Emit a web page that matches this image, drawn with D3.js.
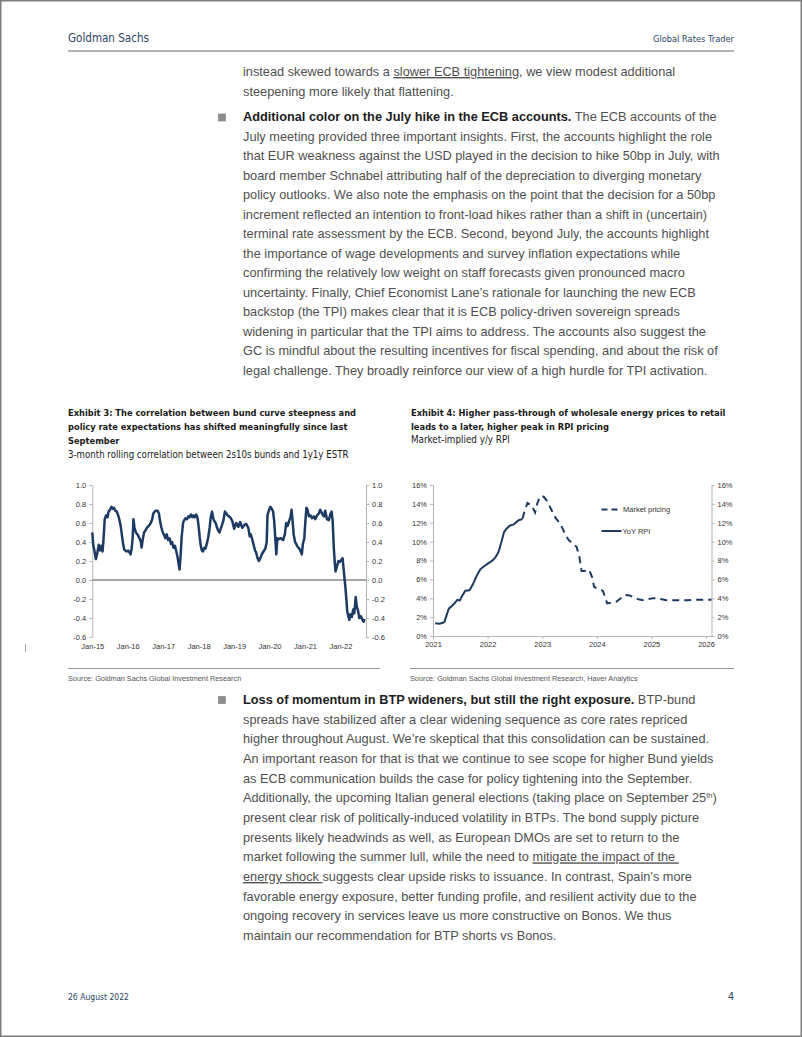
<!DOCTYPE html>
<html><head><meta charset="utf-8">
<script src="https://cdn.jsdelivr.net/npm/d3@7"></script>
<style>body{margin:0;background:#fff}svg{display:block}</style>
</head><body>
<svg id="page" width="802" height="1037"></svg>
<script>
// ---------- Exhibit 3 data: 3m rolling correlation 2s10s bunds vs 1y1y ESTR ----------
const corrYears = [2015.00,2015.03,2015.065,2015.10,2015.14,2015.18,2015.22,2015.255,2015.29,2015.32,2015.35,2015.39,2015.43,2015.46,2015.50,2015.54,2015.58,2015.61,2015.65,2015.69,2015.73,2015.76,2015.80,2015.84,2015.87,2015.90,2015.93,2015.97,
2016.01,2016.05,2016.08,2016.11,2016.14,2016.16,2016.19,2016.22,2016.25,2016.29,2016.33,2016.37,2016.39,2016.42,2016.46,2016.50,2016.54,2016.57,2016.61,2016.65,2016.69,2016.72,2016.76,2016.80,2016.84,2016.88,2016.91,2016.95,2016.99,
2017.03,2017.06,2017.10,2017.14,2017.18,2017.22,2017.25,2017.29,2017.33,2017.37,2017.40,2017.43,2017.46,2017.49,2017.52,2017.56,2017.59,2017.63,2017.67,2017.71,2017.74,2017.78,2017.82,2017.85,2017.89,2017.93,2017.97,
2018.00,2018.03,2018.06,2018.09,2018.12,2018.16,2018.19,2018.23,2018.27,2018.31,2018.34,2018.38,2018.41,2018.44,2018.48,2018.51,2018.55,2018.59,2018.63,2018.66,2018.70,2018.74,2018.78,2018.82,2018.89,2018.95,
2019.00,2019.06,2019.12,2019.17,2019.23,2019.29,2019.34,2019.40,2019.44,2019.47,2019.51,2019.55,2019.59,2019.62,2019.66,2019.70,2019.74,2019.78,2019.83,2019.88,2019.92,2019.94,2019.98,
2020.02,2020.06,2020.10,2020.13,2020.16,2020.19,2020.22,2020.26,2020.32,2020.38,2020.43,2020.47,2020.51,2020.55,2020.59,2020.62,2020.65,2020.68,2020.72,2020.75,2020.79,2020.84,2020.88,2020.91,2020.94,2020.98,
2021.01,2021.04,2021.07,2021.11,2021.15,2021.20,2021.25,2021.29,2021.34,2021.39,2021.43,2021.48,2021.53,2021.57,2021.62,2021.67,2021.72,2021.75,2021.78,2021.81,2021.84,2021.86,2021.90,2021.94,2021.98,
2022.02,2022.06,2022.08,2022.11,2022.14,2022.17,2022.19,2022.22,2022.25,2022.28,2022.32,2022.36,2022.39,2022.43,2022.46,2022.50,2022.53,2022.57,2022.61,2022.65,2022.68];
const corrValues = [0.50,0.36,0.30,0.22,0.28,0.37,0.31,0.36,0.30,0.45,0.64,0.68,0.66,0.72,0.74,0.77,0.75,0.76,0.73,0.72,0.68,0.64,0.57,0.46,0.38,0.32,0.31,0.30,
0.31,0.29,0.27,0.33,0.45,0.64,0.55,0.51,0.49,0.47,0.44,0.40,0.34,0.42,0.50,0.52,0.55,0.56,0.58,0.60,0.64,0.70,0.72,0.73,0.73,0.70,0.62,0.55,0.50,
0.47,0.44,0.48,0.42,0.44,0.38,0.40,0.34,0.36,0.30,0.25,0.18,0.11,0.25,0.45,0.60,0.63,0.65,0.64,0.67,0.66,0.69,0.66,0.68,0.66,0.69,0.65,
0.56,0.45,0.36,0.31,0.30,0.34,0.33,0.38,0.45,0.55,0.66,0.72,0.65,0.62,0.60,0.56,0.52,0.50,0.55,0.58,0.63,0.72,0.70,0.68,0.66,0.62,
0.54,0.60,0.56,0.61,0.55,0.58,0.59,0.55,0.46,0.48,0.43,0.37,0.31,0.29,0.23,0.20,0.23,0.27,0.30,0.33,0.40,0.68,0.73,
0.77,0.75,0.72,0.62,0.45,0.27,0.44,0.43,0.44,0.42,0.48,0.60,0.57,0.62,0.66,0.74,0.62,0.48,0.40,0.38,0.35,0.33,0.30,0.27,0.38,0.44,
0.62,0.76,0.74,0.67,0.68,0.65,0.67,0.64,0.68,0.70,0.74,0.70,0.67,0.73,0.64,0.63,0.70,0.72,0.62,0.35,0.18,0.09,0.14,0.20,0.19,
0.21,0.23,0.15,0.03,-0.08,-0.22,-0.33,-0.38,-0.42,-0.36,-0.39,-0.31,-0.35,-0.18,-0.28,-0.33,-0.40,-0.38,-0.41,-0.44,-0.41];
const corrTickValues = [-0.6,-0.4,-0.2,0.0,0.2,0.4,0.6,0.8,1.0];
const corrTickLabels = ["-0.6","-0.4","-0.2","0.0","0.2","0.4","0.6","0.8","1.0"];
const corrXTicks = [2015,2016,2017,2018,2019,2020,2021,2022];
const corrXLabels = ["Jan-15","Jan-16","Jan-17","Jan-18","Jan-19","Jan-20","Jan-21","Jan-22"];

// ---------- Exhibit 4 data: market-implied y/y RPI (%) ----------
const rpiYears = [2021.04,2021.12,2021.18,2021.21,2021.26,2021.29,2021.35,2021.40,2021.45,2021.49,2021.53,2021.59,2021.67,2021.74,2021.81,2021.87,2021.95,2022.01,2022.08,2022.14,2022.20,2022.25,2022.30,2022.35,2022.41,2022.47,2022.53,2022.58,2022.64];
const rpiValues = [1.35,1.3,1.4,1.5,2.4,2.9,3.2,3.5,3.85,3.75,4.2,4.8,4.85,5.6,6.5,7.1,7.45,7.7,7.95,8.3,8.9,9.9,11.0,11.4,11.7,11.8,12.1,12.3,12.4];
const mktYears = [2022.64,2022.68,2022.73,2022.81,2022.87,2022.91,2022.96,2023.03,2023.09,2023.17,2023.25,2023.33,2023.40,2023.48,2023.56,2023.63,2023.68,2023.72,2023.80,2023.86,2023.91,2023.95,2024.03,2024.11,2024.15,2024.19,2024.27,2024.36,2024.44,2024.52,2024.60,2024.67,2024.76,2024.85,2024.94,2025.02,2025.10,2025.19,2025.28,2025.46,2025.65,2025.83,2026.01,2026.10];
const mktValues = [12.45,13.3,14.1,13.8,13.1,14.05,14.8,14.75,14.3,13.35,12.45,11.9,11.05,10.2,9.75,9.45,8.4,6.9,6.9,7.0,6.3,5.2,4.95,4.8,4.15,3.45,3.55,3.65,4.0,4.35,4.3,4.1,3.9,3.8,3.9,4.0,4.0,3.9,3.8,3.8,3.8,3.85,3.85,3.85];
const rpiTickValues = [0,2,4,6,8,10,12,14,16];
const rpiTickLabels = ["0%","2%","4%","6%","8%","10%","12%","14%","16%"];
const rpiXTicks = [2021,2022,2023,2024,2025,2026];
const rpiXLabels = ["2021","2022","2023","2024","2025","2026"];
const rpiSeriesNames = ["Market pricing","YoY RPI"];

// ---------- page text ----------
const bodyTop = [
 [["instead skewed towards a ",""],["slower ECB tightening","u"],[", we view modest additional",""]],
 [["steepening more likely that flattening.",""]],
 [["Additional color on the July hike in the ECB accounts.","b"],[" The ECB accounts of the",""]],
 [["July meeting provided three important insights. First, the accounts highlight the role",""]],
 [["that EUR weakness against the USD played in the decision to hike 50bp in July, with",""]],
 [["board member Schnabel attributing half of the depreciation to diverging monetary",""]],
 [["policy outlooks. We also note the emphasis on the point that the decision for a 50bp",""]],
 [["increment reflected an intention to front-load hikes rather than a shift in (uncertain)",""]],
 [["terminal rate assessment by the ECB. Second, beyond July, the accounts highlight",""]],
 [["the importance of wage developments and survey inflation expectations while",""]],
 [["confirming the relatively low weight on staff forecasts given pronounced macro",""]],
 [["uncertainty. Finally, Chief Economist Lane’s rationale for launching the new ECB",""]],
 [["backstop (the TPI) makes clear that it is ECB policy-driven sovereign spreads",""]],
 [["widening in particular that the TPI aims to address. The accounts also suggest the",""]],
 [["GC is mindful about the resulting incentives for fiscal spending, and about the risk of",""]],
 [["legal challenge. They broadly reinforce our view of a high hurdle for TPI activation.",""]]
];
const bodyBottom = [
 [["Loss of momentum in BTP wideners, but still the right exposure.","b"],[" BTP-bund",""]],
 [["spreads have stabilized after a clear widening sequence as core rates repriced",""]],
 [["higher throughout August. We’re skeptical that this consolidation can be sustained.",""]],
 [["An important reason for that is that we continue to see scope for higher Bund yields",""]],
 [["as ECB communication builds the case for policy tightening into the September.",""]],
 [["Additionally, the upcoming Italian general elections (taking place on September 25",""],["th","sup"],[")",""]],
 [["present clear risk of politically-induced volatility in BTPs. The bond supply picture",""]],
 [["presents likely headwinds as well, as European DMOs are set to return to the",""]],
 [["market following the summer lull, while the need to ",""],["mitigate the impact of the ","u"]],
 [["energy shock ","u"],["suggests clear upside risks to issuance. In contrast, Spain’s more",""]],
 [["favorable energy exposure, better funding profile, and resilient activity due to the",""]],
 [["ongoing recovery in services leave us more constructive on Bonos. We thus",""]],
 [["maintain our recommendation for BTP shorts vs Bonos.",""]]
];

const SANS = "'Liberation Sans', Arial, Helvetica, sans-serif";
const NARROW = "'Liberation Sans Narrow','Arial Narrow','DejaVu Sans Condensed','Liberation Sans',sans-serif";
const NAVY = "#2c4463";
const LINE = "#1d3a62";

const svg = d3.select("#page");
svg.append("rect").attr("x",0.75).attr("y",0.75).attr("width",800.5).attr("height",1035.5)
  .attr("fill","#fff").attr("stroke","#7d7d7d").attr("stroke-width",1.5);

// shrink/grow font so that the text's natural width equals the target width
function fitText(sel, w){
  const fs = +sel.attr("font-size");
  const len = sel.node().getComputedTextLength();
  if(len>0) sel.attr("font-size", (fs*w/len).toFixed(2));
  return sel;
}
fitText(svg.append("text").attr("x",68).attr("y",42).attr("font-family",NARROW).attr("font-size",13.5)
  .attr("fill",NAVY).text("Goldman Sachs"), 81);
fitText(svg.append("text").attr("x",734).attr("y",42).attr("text-anchor","end").attr("font-family",NARROW).attr("font-size",11)
  .attr("fill",NAVY).text("Global Rates Trader"), 81);
svg.append("line").attr("x1",68).attr("x2",734).attr("y1",51).attr("y2",51).attr("stroke","#b4b4b4").attr("stroke-width",2);
fitText(svg.append("text").attr("x",68).attr("y",1000).attr("font-family",NARROW).attr("font-size",10.5)
  .attr("fill",NAVY).text("26 August 2022"), 61);
svg.append("text").attr("x",734).attr("y",1000).attr("text-anchor","end").attr("font-family",NARROW).attr("font-size",10.5)
  .attr("fill",NAVY).text("4");
svg.append("line").attr("x1",25.5).attr("x2",25.5).attr("y1",644).attr("y2",652).attr("stroke","#aaa").attr("stroke-width",1);

// body text
function drawLines(lines, baselines){
  const g = svg.append("g");
  lines.forEach((segs,i)=>{
    const t = g.append("text").attr("x",243).attr("y",baselines[i]).attr("font-family",SANS)
      .attr("font-size",13.6).attr("fill","#4f4f4f").attr("xml:space","preserve");
    segs.forEach(s=>{
      const ts = t.append("tspan").text(s[0]);
      if(s[1]==="b") ts.attr("font-weight","bold").attr("fill","#1c1c1c");
      if(s[1]==="u") ts.attr("text-decoration","underline");
      if(s[1]==="sup") ts.attr("font-size",8).attr("baseline-shift","super");
    });
  });
  return g;
}
const topBase = bodyTop.map((d,i)=> i===0?76 : i===1?95.8 : 121.5 + 19.5*(i-2));
const botBase = bodyBottom.map((d,i)=> 704 + 19.67*i);
const gTop = drawLines(bodyTop, topBase);
const gBot = drawLines(bodyBottom, botBase);
const natural = gTop.selectAll("text").nodes()[3].getComputedTextLength();
const k = 469/natural;
[gTop,gBot].forEach(g=>g.attr("transform",`translate(243,0) scale(${k},1) translate(-243,0)`));
// bullets
[117.5, 700].forEach(cy=>{
  svg.append("rect").attr("x",218.5).attr("y",cy-3.5).attr("width",7).attr("height",7)
    .attr("fill","#8e8e8e").attr("stroke","#777").attr("stroke-width",0.6);
});

// exhibit titles
function title(x, lines, sub){
  let fs = 12;
  const nodes = lines.map((l,i)=> svg.append("text").attr("x",x).attr("y",416+14*i).attr("font-family",NARROW)
      .attr("font-weight","bold").attr("font-size",12).attr("fill","#1a1a1a").text(l[0]));
  // use one font size for all lines of a title, set by the first (widest) line
  fitText(nodes[0], lines[0][1]);
  fs = nodes[0].attr("font-size");
  nodes.forEach(n=>n.attr("font-size",fs));
  fitText(svg.append("text").attr("x",x).attr("y",sub[2]).attr("font-family",NARROW)
      .attr("font-size",11.5).attr("fill","#1a1a1a").text(sub[0]), sub[1]);
}
title(68, [["Exhibit 3: The correlation between bund curve steepness and",288],
           ["policy rate expectations has shifted meaningfully since last",284],
           ["September",52]],
      ["3-month rolling correlation between 2s10s bunds and 1y1y ESTR",281,457.5]);
title(411, [["Exhibit 4: Higher pass-through of wholesale energy prices to retail",315],
            ["leads to a later, higher peak in RPI pricing",199]],
      ["Market-implied y/y RPI",99,443]);

// source lines
svg.append("line").attr("x1",68).attr("x2",380).attr("y1",668.5).attr("y2",668.5).attr("stroke","#9a9a9a").attr("stroke-width",1);
svg.append("line").attr("x1",410).attr("x2",734).attr("y1",668.5).attr("y2",668.5).attr("stroke","#9a9a9a").attr("stroke-width",1);
svg.append("text").attr("x",68).attr("y",681).attr("font-family",SANS).attr("font-size",7.3).attr("fill","#555")
  .text("Source: Goldman Sachs Global Investment Research");
svg.append("text").attr("x",410).attr("y",681).attr("font-family",SANS).attr("font-size",7.3).attr("fill","#555")
  .text("Source: Goldman Sachs Global Investment Research, Haver Analytics");

function styleAxis(g){
  g.attr("font-family",SANS).attr("font-size",7.5).attr("color","#b5b5b5");
  g.selectAll("text").attr("fill","#333");
}

// ---------- Exhibit 3 chart ----------
const x3 = d3.scaleLinear().domain([2015, 2022.72]).range([92.3, 366]);
const y3 = d3.scaleLinear().domain([-0.6, 1.0]).range([637, 485]);
const c3 = svg.append("g");
c3.append("g").attr("transform","translate(92.3,0)")
  .call(d3.axisLeft(y3).tickValues(corrTickValues).tickFormat((d,i)=>corrTickLabels[i]).tickSize(3).tickSizeOuter(0).tickPadding(3))
  .call(styleAxis);
c3.append("g").attr("transform","translate(366,0)")
  .call(d3.axisRight(y3).tickValues(corrTickValues).tickFormat((d,i)=>corrTickLabels[i]).tickSize(3).tickSizeOuter(0).tickPadding(3))
  .call(styleAxis);
c3.append("g").attr("transform","translate(0,637)")
  .call(d3.axisBottom(x3).tickValues(corrXTicks).tickFormat((d,i)=>corrXLabels[i]).tickSize(0).tickPadding(7))
  .call(styleAxis).call(g=>g.select(".domain").remove());
c3.append("line").attr("x1",x3.range()[0]).attr("x2",x3.range()[1]).attr("y1",y3(0)).attr("y2",y3(0))
  .attr("stroke","#8a8a8a").attr("stroke-width",1.4);
const corrData = corrYears.map((t,i)=>[t, corrValues[i]]);
c3.append("path").datum(corrData)
  .attr("d", d3.line().x(d=>x3(d[0])).y(d=>y3(d[1])))
  .attr("fill","none").attr("stroke",LINE).attr("stroke-width",2.5).attr("stroke-linejoin","round");

// ---------- Exhibit 4 chart ----------
const x4 = d3.scaleLinear().domain([2021, 2026.1]).range([433, 711.5]);
const y4 = d3.scaleLinear().domain([0, 16]).range([636, 485]);
const c4 = svg.append("g");
c4.append("g").attr("transform","translate(433,0)")
  .call(d3.axisLeft(y4).tickValues(rpiTickValues).tickFormat((d,i)=>rpiTickLabels[i]).tickSize(3).tickSizeOuter(0).tickPadding(3))
  .call(styleAxis);
c4.append("g").attr("transform","translate(711.5,0)")
  .call(d3.axisRight(y4).tickValues(rpiTickValues).tickFormat((d,i)=>rpiTickLabels[i]).tickSize(3).tickSizeOuter(0).tickPadding(3))
  .call(styleAxis);
c4.append("g").attr("transform","translate(0,636)")
  .call(d3.axisBottom(x4).tickValues(rpiXTicks).tickFormat((d,i)=>rpiXLabels[i]).tickSize(3).tickSizeOuter(0).tickPadding(3))
  .call(styleAxis);
const line4 = d3.line().x(d=>x4(d[0])).y(d=>y4(d[1]));
c4.append("path").datum(mktYears.map((t,i)=>[t,mktValues[i]])).attr("d",line4)
  .attr("fill","none").attr("stroke",LINE).attr("stroke-width",2).attr("stroke-dasharray","7,5");
c4.append("path").datum(rpiYears.map((t,i)=>[t,rpiValues[i]])).attr("d",line4)
  .attr("fill","none").attr("stroke",LINE).attr("stroke-width",2).attr("stroke-linejoin","round");
// legend
const leg = c4.append("g").attr("font-family",SANS).attr("font-size",7.5).attr("fill","#333");
leg.append("line").attr("x1",601.5).attr("x2",620).attr("y1",509.5).attr("y2",509.5)
  .attr("stroke",LINE).attr("stroke-width",2).attr("stroke-dasharray","6,4");
leg.append("text").attr("x",623).attr("y",512.2).text(rpiSeriesNames[0]);
leg.append("line").attr("x1",601.5).attr("x2",621.5).attr("y1",531).attr("y2",531)
  .attr("stroke",LINE).attr("stroke-width",2);
leg.append("text").attr("x",622.5).attr("y",533.7).text(rpiSeriesNames[1]);
</script>
</body></html>
